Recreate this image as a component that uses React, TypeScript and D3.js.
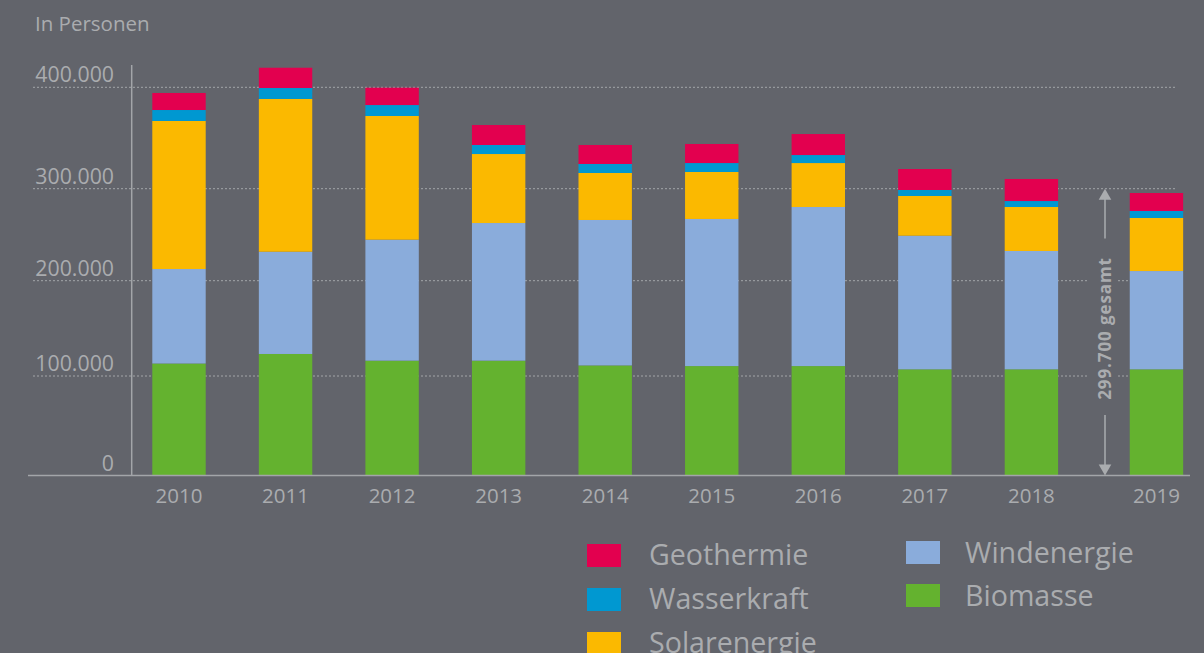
import React from "react";
import * as d3 from "d3";

const years = ["2010", "2011", "2012", "2013", "2014", "2015", "2016", "2017", "2018", "2019"];
const biomasse = [113100, 123100, 116100, 116100, 111100, 110400, 110400, 107000, 107000, 107000];
const windenergie = [99600, 108400, 128500, 146600, 154900, 156700, 169700, 141900, 125300, 103500];
const solarenergie = [154100, 157000, 127100, 71500, 49500, 49400, 45200, 43200, 47800, 57700];
const wasserkraft = [10800, 10800, 10800, 8900, 8900, 8800, 7900, 6500, 6500, 7600];
const geothermie = [16800, 20000, 17100, 19700, 18700, 18800, 20700, 20800, 23000, 19500];
const yTicks = [0, 100000, 200000, 300000, 400000];
const yTickLabels = ["0", "100.000", "200.000", "300.000", "400.000"];
const totalLabel = "299.700 gesamt";
const unitLabel = "In Personen";

const keys = ["Biomasse", "Windenergie", "Solarenergie", "Wasserkraft", "Geothermie"];
const colors: Record<string, string> = {
  Biomasse: "#64b22f",
  Windenergie: "#8aacdb",
  Solarenergie: "#fbb900",
  Wasserkraft: "#0098d1",
  Geothermie: "#e3004f",
};

const W = 1204;
const H = 653;
const BG = "#62646b";
const TXT = "#aaacaf";
const FONT = "'Open Sans', sans-serif";

export default function App() {
  const rows = years.map((y, i) => ({
    year: y,
    Biomasse: biomasse[i],
    Windenergie: windenergie[i],
    Solarenergie: solarenergie[i],
    Wasserkraft: wasserkraft[i],
    Geothermie: geothermie[i],
  }));
  const series = d3.stack<any>().keys(keys)(rows);

  // the reference's gridlines are unevenly spaced; follow them piecewise
  const y = d3.scaleLinear().domain(yTicks).range([475.5, 376, 280.7, 188.7, 87.3]);
  const xp = d3.scalePoint<string>().domain(years).range([179, 179 + 9 * 106.55]);
  const lastShift = 18.5;
  const cx = (yr: string) => (xp(yr) as number) + (yr === "2019" ? lastShift : 0);
  const bw = 53.4;

  const gridX0 = 33;
  const gridX1 = 1180;
  const gapA = 1087;
  const gapB = 1118;
  const arrowX = 1105;

  const legendLeft = [
    { k: "Geothermie", y: 544 },
    { k: "Wasserkraft", y: 588 },
    { k: "Solarenergie", y: 632 },
  ];
  const legendRight = [
    { k: "Windenergie", y: 541 },
    { k: "Biomasse", y: 584 },
  ];

  return (
    <svg width={W} height={H} style={{ position: "absolute", left: 0, top: 0, background: BG }} fontFamily={FONT}>
      <rect x={0} y={0} width={W} height={H} fill={BG} />
      <text x={35} y={30.5} fill={TXT} fontSize={20.5}>{unitLabel}</text>

      {/* gridlines */}
      {yTicks.slice(1).map((t) => {
        const yy = y(t);
        const broken = t <= 200000;
        return broken ? (
          <g key={t}>
            <line x1={gridX0} x2={gapA} y1={yy} y2={yy} stroke="#a3a5a9" strokeWidth={1} strokeDasharray="2,2" />
            <line x1={gapB} x2={gridX1} y1={yy} y2={yy} stroke="#a3a5a9" strokeWidth={1} strokeDasharray="2,2" />
          </g>
        ) : (
          <line key={t} x1={gridX0} x2={gridX1 - 3} y1={yy} y2={yy} stroke="#a3a5a9" strokeWidth={1} strokeDasharray="2,2" />
        );
      })}

      {/* tick labels */}
      {yTicks.map((t, i) => (
        <text key={t} x={114} y={y(t) - 5} textAnchor="end" fill={TXT} fontSize={21.3}>
          {yTickLabels[i]}
        </text>
      ))}

      {/* bars */}
      {series.map((s) => (
        <g key={s.key} fill={colors[s.key]}>
          {s.map((d: any) => (
            <rect
              key={d.data.year}
              x={cx(d.data.year) - bw / 2}
              y={y(d[1])}
              width={bw}
              height={y(d[0]) - y(d[1])}
            />
          ))}
        </g>
      ))}

      {/* axes */}
      <line x1={131.7} x2={131.7} y1={65} y2={475.5} stroke="#a3a5a9" strokeWidth={1.5} />
      <line x1={28} x2={1190} y1={475.5} y2={475.5} stroke="#a3a5a9" strokeWidth={1.5} />

      {/* year labels */}
      {years.map((yr) => (
        <text key={yr} x={cx(yr)} y={503} textAnchor="middle" fill={TXT} fontSize={20.5}>
          {yr}
        </text>
      ))}

      {/* total annotation */}
      <g stroke={TXT} strokeWidth={1.5} fill={TXT}>
        <line x1={arrowX} x2={arrowX} y1={198} y2={238.5} />
        <path d={`M${arrowX},${y(300000)} L${arrowX - 6.3},${y(300000) + 11} L${arrowX + 6.3},${y(300000) + 11} Z`} stroke="none" />
        <line x1={arrowX} x2={arrowX} y1={415} y2={465} />
        <path d={`M${arrowX},${y(0)} L${arrowX - 6.3},${y(0) - 11} L${arrowX + 6.3},${y(0) - 11} Z`} stroke="none" />
      </g>
      <text
        transform={`translate(${arrowX + 6},328.5) rotate(-90)`}
        textAnchor="middle"
        fill={TXT}
        fontSize={17}
        fontWeight={700}
        letterSpacing={0.9}
      >
        {totalLabel}
      </text>

      {/* legend */}
      {legendLeft.map((l) => (
        <g key={l.k}>
          <rect x={587} y={l.y} width={34} height={23} fill={colors[l.k]} />
          <text x={649} y={l.y + 21} fill={TXT} fontSize={28.6}>{l.k}</text>
        </g>
      ))}
      {legendRight.map((l) => (
        <g key={l.k}>
          <rect x={906} y={l.y} width={34} height={23} fill={colors[l.k]} />
          <text x={965} y={l.y + 22} fill={TXT} fontSize={28.6}>{l.k}</text>
        </g>
      ))}
    </svg>
  );
}
